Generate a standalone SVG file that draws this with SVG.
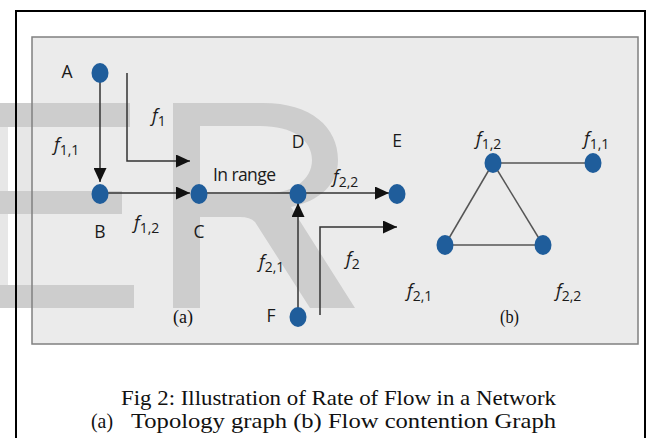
<svg xmlns="http://www.w3.org/2000/svg" width="652" height="438" viewBox="0 0 652 438">
<style>
.lbl{font-family:"Open Sans","Noto Sans",sans-serif;font-size:17.5px;fill:#1a1a1a}
.fl{font-family:"Open Sans","Noto Sans",sans-serif;font-size:18px;fill:#1a1a1a}
.fi{font-style:italic}
.sub{font-size:14px}
.ser{font-family:"Liberation Serif","Times New Roman",serif;fill:#111}
.edge{stroke:#333;stroke-width:1.5;fill:none}
.cg{stroke:#555;stroke-width:1.5;fill:none}
.node{fill:#1f5d9b}
.wm{fill:#cdcdcd}
</style>
<defs>
<marker id="ah" markerUnits="userSpaceOnUse" markerWidth="15" markerHeight="13" refX="14" refY="6.5" orient="auto">
<path d="M0,0 L14,6.5 L0,13 z" fill="#111"/>
</marker>
</defs>
<rect width="652" height="438" fill="#fff"/>
<rect x="0" y="103" width="32" height="205" fill="#e7e7e7"/>
<rect x="8" y="103" width="7" height="205" fill="#fff"/>
<rect x="32" y="37" width="606" height="307" fill="#ebebeb"/>
<g id="watermark">
<rect class="wm" x="0" y="103" width="130" height="24"/>
<rect class="wm" x="0" y="191" width="122" height="23"/>
<rect class="wm" x="0" y="285" width="134" height="23"/>
<path class="wm" fill-rule="evenodd" d="M173,103 H263 C311,103 338,127 338,160 C338,185 319,201 291,207 L355,308 H310 L255,222 Q250,217 240,217 H200 V308 H173 Z M200,126 H260 C293,126 312,140 312,160 C312,180 293,194 260,194 H200 Z"/>
</g>
<rect x="32" y="37" width="606" height="307" fill="none" stroke="#808080" stroke-width="1.5"/>
<rect x="16" y="11" width="629" height="440" fill="none" stroke="#000" stroke-width="2"/>
<g id="connectors">
<path class="edge" d="M100,80 V182" marker-end="url(#ah)"/>
<path class="edge" d="M100,193 H190" marker-end="url(#ah)"/>
<path class="edge" d="M127,73 V161 H190" marker-end="url(#ah)"/>
<path class="edge" d="M199,193 H298" stroke-width="2"/>
<path class="edge" d="M298,193 H389" marker-end="url(#ah)"/>
<path class="edge" d="M298,317 V203" marker-end="url(#ah)"/>
<path class="edge" d="M320,315 V227 H397" marker-end="url(#ah)"/>
<line class="cg" x1="493" y1="163" x2="593" y2="163"/>
<line class="cg" x1="493" y1="163" x2="445" y2="245"/>
<line class="cg" x1="493" y1="163" x2="543" y2="245"/>
<line class="cg" x1="445" y1="245" x2="543" y2="245"/>
</g>
<g id="A"><ellipse class="node" cx="100" cy="73" rx="8.5" ry="10"/><text class="lbl" x="67" y="78" text-anchor="middle">A</text></g>
<g id="B"><ellipse class="node" cx="100" cy="194" rx="8.5" ry="10"/><text class="lbl" x="100" y="238" text-anchor="middle">B</text></g>
<g id="C"><ellipse class="node" cx="199" cy="194" rx="8.5" ry="10"/><text class="lbl" x="199" y="238" text-anchor="middle">C</text></g>
<g id="D"><ellipse class="node" cx="298" cy="194" rx="8.5" ry="10"/><text class="lbl" x="298" y="148" text-anchor="middle">D</text></g>
<g id="E"><ellipse class="node" cx="397" cy="194" rx="8.5" ry="10"/><text class="lbl" x="397" y="147" text-anchor="middle">E</text></g>
<g id="F"><ellipse class="node" cx="298" cy="317" rx="8.5" ry="10"/><text class="lbl" x="271" y="322" text-anchor="middle">F</text></g>
<g id="n-f12"><ellipse class="node" cx="493" cy="163" rx="8.5" ry="10"/><text class="fl" x="476" y="145"><tspan class="fi">f</tspan><tspan class="sub" dy="4">1,2</tspan></text></g>
<g id="n-f11"><ellipse class="node" cx="593" cy="163" rx="8.5" ry="10"/><text class="fl" x="584" y="145"><tspan class="fi">f</tspan><tspan class="sub" dy="4">1,1</tspan></text></g>
<g id="n-f21"><ellipse class="node" cx="445" cy="245" rx="8.5" ry="10"/><text class="fl" x="407" y="297"><tspan class="fi">f</tspan><tspan class="sub" dy="4">2,1</tspan></text></g>
<g id="n-f22"><ellipse class="node" cx="543" cy="245" rx="8.5" ry="10"/><text class="fl" x="556" y="297"><tspan class="fi">f</tspan><tspan class="sub" dy="4">2,2</tspan></text></g>
<g id="labels">
<text class="fl" x="54" y="151"><tspan class="fi">f</tspan><tspan class="sub" dy="4">1,1</tspan></text>
<text class="fl" x="152" y="122"><tspan class="fi">f</tspan><tspan class="sub" dy="4">1</tspan></text>
<text class="fl" x="134" y="229"><tspan class="fi">f</tspan><tspan class="sub" dy="4">1,2</tspan></text>
<text class="fl" x="259" y="268"><tspan class="fi">f</tspan><tspan class="sub" dy="4">2,1</tspan></text>
<text class="fl" x="333" y="183"><tspan class="fi">f</tspan><tspan class="sub" dy="4">2,2</tspan></text>
<text class="fl" x="346" y="265"><tspan class="fi">f</tspan><tspan class="sub" dy="4">2</tspan></text>
<text class="lbl" x="213" y="181" textLength="63">In range</text>
<text class="ser" x="173" y="323" font-size="18" textLength="20" lengthAdjust="spacingAndGlyphs">(a)</text>
<text class="ser" x="500" y="323" font-size="18" textLength="19" lengthAdjust="spacingAndGlyphs">(b)</text>
</g>
<g id="caption">
<text class="ser" x="121" y="405" font-size="21" textLength="435" lengthAdjust="spacingAndGlyphs">Fig 2: Illustration of Rate of Flow in a Network</text>
<text class="ser" x="91" y="428" font-size="21" textLength="22" lengthAdjust="spacingAndGlyphs">(a)</text>
<text class="ser" x="131" y="428" font-size="21" textLength="425" lengthAdjust="spacingAndGlyphs">Topology graph (b) Flow contention Graph</text>
</g>
</svg>
